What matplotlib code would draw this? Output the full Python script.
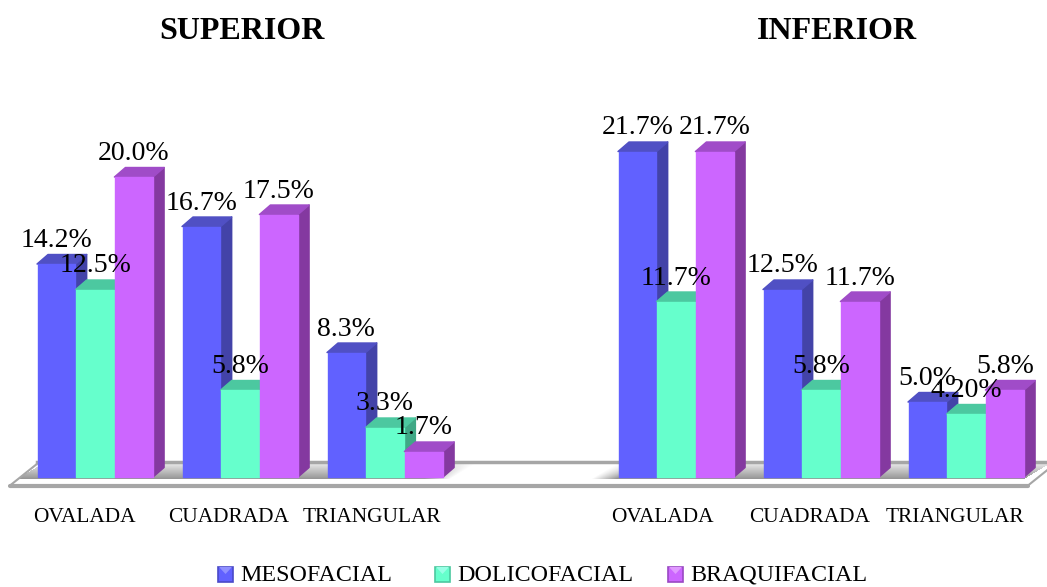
import numpy as np
import matplotlib
matplotlib.use('Agg')
import matplotlib.pyplot as plt
from matplotlib.patches import Polygon, Rectangle

plt.rcParams['font.family'] = ['Liberation Serif', 'DejaVu Serif']

categories = ['OVALADA', 'CUADRADA', 'TRIANGULAR']
panels = ['SUPERIOR', 'INFERIOR']
series = ['MESOFACIAL', 'DOLICOFACIAL', 'BRAQUIFACIAL']

sup_meso = [14.2, 16.7, 8.3]
sup_doli = [12.5, 5.8, 3.3]
sup_braq = [20.0, 17.5, 1.7]
inf_meso = [21.7, 12.5, 5.0]
inf_doli = [11.7, 5.8, 4.2]
inf_braq = [21.7, 11.7, 5.8]

sup_labels = [['14.2%', '16.7%', '8.3%'], ['12.5%', '5.8%', '3.3%'], ['20.0%', '17.5%', '1.7%']]
inf_labels = [['21.7%', '12.5%', '5.0%'], ['11.7%', '5.8%', '4.20%'], ['21.7%', '11.7%', '5.8%']]

front = ['#6161ff', '#66ffcc', '#cc66ff']
side = ['#4343a8', '#3fa886', '#8439a0']
top = ['#5050c4', '#4cc8a0', '#a04cc8']
swatch_dark = ['#4a4ac8', '#4cc8a0', '#9a48c4']
swatch_light = ['#9090ff', '#99ffe6', '#e099ff']

W, H = 1047, 587
BASE = 477
UNIT = 15.0     # pixels per percentage point
BAR_W = 38.7
GROUP_STEP = 145
DX, DY = 11, 9.5


def py(y):
    # pixel row to value units
    return (BASE - y) / UNIT


fig = plt.figure(figsize=(W / 100, H / 100), dpi=100)
ax = fig.add_axes([0, 0, 1, 1])

# shadow on the floor: darker towards the front, fading out beside each panel
xs = np.arange(0, W)
ys = np.arange(462, 479)
xx, yy = np.meshgrid(xs, ys)
u = xx - (BASE - yy) * 1.67
fade = np.clip((452 - u) / 26, 0, 1) * (u >= 19) + np.clip((u - 593) / 25, 0, 1) * (u <= 1026)
alpha = fade * np.linspace(0.15, 0.95, len(ys)).reshape(-1, 1)
rgba = np.zeros(alpha.shape + (4,))
rgba[..., :3] = 0.57
rgba[..., 3] = alpha
ax.imshow(rgba, extent=(0, W, py(479), py(462)), aspect='auto', zorder=1.5)

ax.set_xlim(0, W)
ax.set_ylim(py(H), py(0))
ax.axis('off')

# floor outline
ax.plot([10, 1028], [py(485.5), py(485.5)], color='#a6a6a6', lw=3, zorder=2, solid_capstyle='round')
ax.plot([37, W], [py(461.5), py(461.5)], color='#a6a6a6', lw=2.5, zorder=2)
ax.plot([10, 40], [py(485.5), py(461.5)], color='#a6a6a6', lw=1.5, zorder=2)
ax.plot([1028, 1058], [py(485.5), py(461.5)], color='#a6a6a6', lw=1.5, zorder=2)


def draw_bar(x, value, i, label):
    d = DY / UNIT
    ax.add_patch(Polygon([(x + BAR_W, 0), (x + BAR_W + DX, d), (x + BAR_W + DX, value + d), (x + BAR_W, value)],
                         fc=side[i], ec=side[i], lw=1, joinstyle='round', zorder=3))
    ax.add_patch(Polygon([(x, value), (x + DX, value + d), (x + BAR_W + DX, value + d), (x + BAR_W, value)],
                         fc=top[i], ec=top[i], lw=1, joinstyle='round', zorder=3))
    ax.bar(x + BAR_W / 2, value, width=BAR_W - 1, color=front[i], edgecolor=front[i], lw=1,
           joinstyle='round', zorder=3)
    ax.text(x + BAR_W / 2, value + 17 / UNIT, label, ha='center', va='baseline', fontsize=20,
            color='black', zorder=6)


panel_data = [([sup_meso, sup_doli, sup_braq], sup_labels, 37, [-11, -11, -13]),
              ([inf_meso, inf_doli, inf_braq], inf_labels, 618, [-14, -11, -11])]
for data, labels, x0, shifts in panel_data:
    for g, cat in enumerate(categories):
        gx = x0 + g * GROUP_STEP
        for i in range(3):
            draw_bar(gx + i * BAR_W, data[i][g], i, labels[i][g])
        ax.text(gx + 1.5 * BAR_W + shifts[g], py(522), cat, ha='center', va='baseline', fontsize=15.4, color='black')

ax.text(242, py(39), panels[0], ha='center', va='baseline', fontsize=23, fontweight='bold')
ax.text(837, py(39), panels[1], ha='center', va='baseline', fontsize=23, fontweight='bold')

# legend row
for i, (sx, name) in enumerate(zip([218, 435, 668], series)):
    s0, s1 = py(582), py(567)
    ax.add_patch(Rectangle((sx, s0), 15, s1 - s0, fc=front[i], ec=swatch_dark[i], lw=1.2, zorder=3))
    ax.add_patch(Polygon([(sx + 1, s1), (sx + 14, s1), (sx + 7.5, py(574))], fc=swatch_light[i], ec='none', zorder=4))
    ax.text(sx + 22, py(581), name, ha='left', va='baseline', fontsize=17.3, color='black')

fig.savefig('out.png', dpi=100)
